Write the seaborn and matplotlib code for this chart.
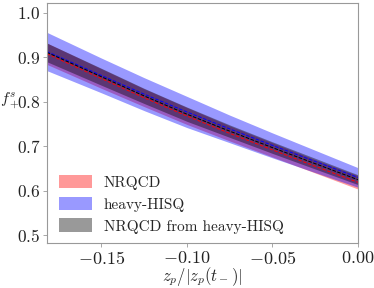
import numpy as np
import matplotlib
matplotlib.use("Agg")
import matplotlib.pyplot as plt
import seaborn as sns
from matplotlib.patches import Patch

# ── DATA ─────────────────────────────────────────────────────────────────────
z = [-0.182, -0.15, -0.125, -0.10, -0.075, -0.05, -0.025, 0.0]

nrqcd_mean = [0.908, 0.852, 0.809, 0.768, 0.729, 0.692, 0.655, 0.619]
nrqcd_err = [0.024, 0.022, 0.020, 0.019, 0.017, 0.016, 0.015, 0.015]

hisq_mean = [0.913, 0.859, 0.817, 0.777, 0.739, 0.702, 0.666, 0.630]
hisq_err = [0.043, 0.039, 0.037, 0.035, 0.031, 0.028, 0.025, 0.022]

conv_mean = [0.911, 0.856, 0.813, 0.772, 0.734, 0.697, 0.661, 0.625]
conv_err = [0.021, 0.019, 0.017, 0.016, 0.014, 0.013, 0.012, 0.011]

labels = ["NRQCD", "heavy-HISQ", "NRQCD from heavy-HISQ"]
colors = ["red", "blue", "black"]

# ── STYLE ────────────────────────────────────────────────────────────────────
sns.set_style("ticks")
plt.rcParams["font.family"] = ["cmr10", "DejaVu Serif"]
plt.rcParams["mathtext.fontset"] = "cm"
plt.rcParams["axes.formatter.use_mathtext"] = True
plt.rcParams["axes.edgecolor"] = "#999999"
plt.rcParams["xtick.color"] = "#999999"
plt.rcParams["ytick.color"] = "#999999"
plt.rcParams["xtick.labelcolor"] = "#222222"
plt.rcParams["ytick.labelcolor"] = "#222222"

fig = plt.figure(figsize=(3.74, 2.88), dpi=100)
ax = fig.add_axes([0.125, 0.155, 0.832, 0.835])

series = [(nrqcd_mean, nrqcd_err), (hisq_mean, hisq_err), (conv_mean, conv_err)]
zz = np.array(z)
for (m, e), c in zip(series, colors):
    m = np.array(m)
    e = np.array(e)
    ax.fill_between(zz, m - e, m + e, color=c, alpha=0.4, lw=0)
for (m, e), c in zip(series, colors):
    sns.lineplot(x=z, y=m, ax=ax, color=c, lw=0.7, ls="--")

handles = [Patch(facecolor=c, alpha=0.4, edgecolor="none") for c in colors]
ax.legend(handles, labels, loc="lower left", frameon=False, fontsize=11,
          handlelength=2.15, handleheight=1.0, handletextpad=0.8,
          labelspacing=0.45, borderaxespad=0.4, bbox_to_anchor=(0.0, -0.01))

ax.set_xlim(-0.182, 0.0)
ax.set_ylim(0.482, 1.022)
ax.set_xticks([-0.15, -0.10, -0.05, 0.00])
ax.set_xticklabels(["$-0.15$", "$-0.10$", "$-0.05$", "$0.00$"])
ax.set_yticks([0.5, 0.6, 0.7, 0.8, 0.9, 1.0])
ax.set_yticklabels(["$0.5$", "$0.6$", "$0.7$", "$0.8$", "$0.9$", "$1.0$"])
ax.tick_params(labelsize=13, length=3, width=0.6, pad=1.5)
ax.tick_params(axis="y", labelsize=12.5)

ax.set_xlabel(r"$z_p/|z_p(t_-)|$", fontsize=12, labelpad=-1)
ax.set_ylabel(r"$f_+^s$", fontsize=11.5, rotation=0)
ax.yaxis.set_label_coords(-0.117, 0.55)

fig.savefig("out.png", dpi=100)
plt.close(fig)
